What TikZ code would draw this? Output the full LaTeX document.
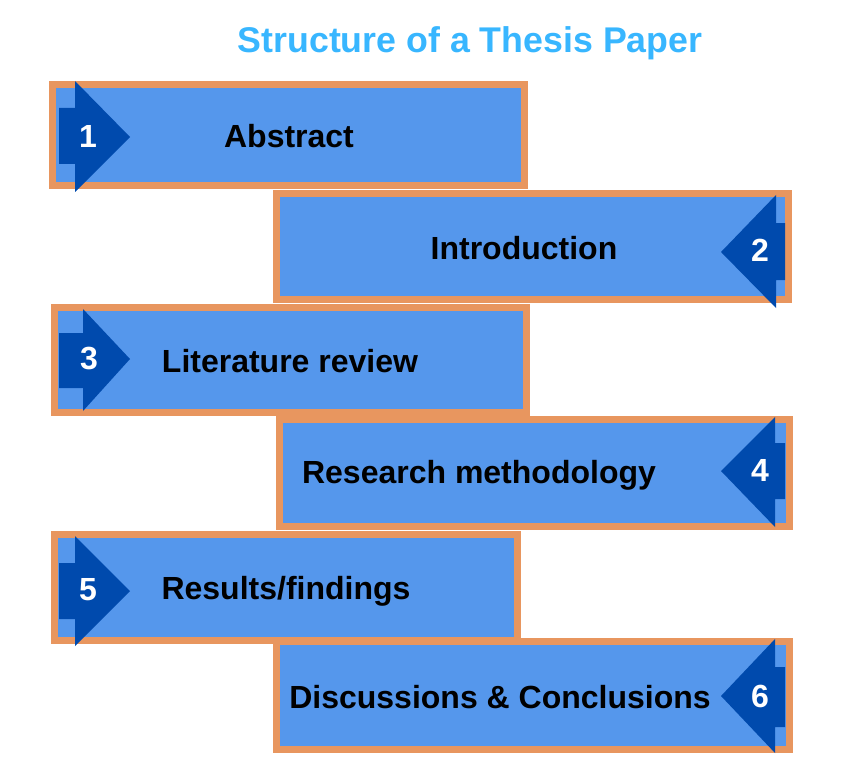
\documentclass[tikz,border=0pt]{standalone}
\usepackage{fontspec}
\setmainfont{Liberation Sans}
\usepackage{tikz}

\definecolor{boxblue}{HTML}{5597EC}
\definecolor{boxedge}{HTML}{E8965F}
\definecolor{tagblue}{HTML}{004AAD}
\definecolor{titleblue}{HTML}{38B6FF}

\begin{document}
\begin{tikzpicture}[x=0.75pt, y=-0.75pt,
	box/.style = {draw=boxedge, fill=boxblue, line width=5.25pt},
	tag/.style = {fill=tagblue},
	num/.style = {text=white, font=\bfseries\fontsize{24}{28}\selectfont},
	label/.style = {text=black, font=\bfseries\fontsize{24}{28}\selectfont}]
	\useasboundingbox (0,0) rectangle (841,777);
	\node[text=titleblue, font=\bfseries\fontsize{26.8}{32}\selectfont] (title) at (470,43) {Structure of a Thesis Paper};
	% 1
	\draw[box] (52.5,84.5) rectangle (524.5,185.5);
	\fill[tag] (59,108) -- (75,108) -- (75,81) -- (130,137) -- (75,192) -- (75,164) -- (59,164) -- cycle;
	\node[num] (n1) at (88,136) {1};
	\node[label] (l1) at (289,136) {Abstract};
	% 2
	\draw[box] (276.5,193.5) rectangle (788.5,299.5);
	\fill[tag] (785,223) -- (776,223) -- (776,195) -- (721,252) -- (776,308) -- (776,280) -- (785,280) -- cycle;
	\node[num] (n2) at (760,250) {2};
	\node[label] (l2) at (524,248) {Introduction};
	% 3
	\draw[box] (54.5,307.5) rectangle (526.5,412.5);
	\fill[tag] (59,333) -- (83,333) -- (83,309) -- (130,359) -- (83,411) -- (83,388) -- (59,388) -- cycle;
	\node[num] (n3) at (89,359) {3};
	\node[label] (l3) at (290,361) {Literature review};
	% 4
	\draw[box] (279.5,419.5) rectangle (789.5,526.5);
	\fill[tag] (785,443) -- (775,443) -- (775,417) -- (721,471) -- (775,527) -- (775,499) -- (785,499) -- cycle;
	\node[num] (n4) at (760,470) {4};
	\node[label] (l4) at (479,475) {Research methodology};
	% 5
	\draw[box] (54.5,534.5) rectangle (517.5,640.5);
	\fill[tag] (59,563) -- (75,563) -- (75,536) -- (130,591) -- (75,646) -- (75,619) -- (59,619) -- cycle;
	\node[num] (n5) at (88,590) {5};
	\node[label] (l5) at (286,591) {Results/findings};
	% 6
	\draw[box] (276.5,641.5) rectangle (789.5,749.5);
	\fill[tag] (785,667) -- (775,667) -- (775,639) -- (721,696) -- (775,753) -- (775,727) -- (785,727) -- cycle;
	\node[num] (n6) at (760,696) {6};
	\node[label] (l6) at (500,697) {Discussions \& Conclusions};
\end{tikzpicture}
\end{document}
